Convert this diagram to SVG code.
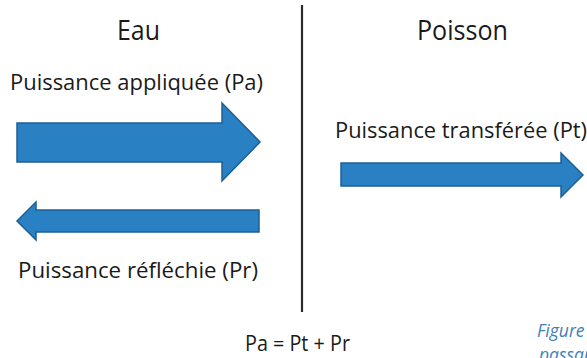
<svg xmlns="http://www.w3.org/2000/svg" width="587" height="358" viewBox="0 0 587 358">
<style>
.t{font-family:"Open Sans","Noto Sans","Liberation Sans",sans-serif;fill:#1a1a1a}
.h{font-size:28px}
.l{font-size:21px}
.arr{fill:#2980c3;stroke:#1d5f96;stroke-width:1.5}
.fig{font-family:"Open Sans","Liberation Sans",sans-serif;font-style:italic;font-size:17.5px;fill:#3d7fb8}
</style>
<rect width="587" height="358" fill="#fff"/>
<g id="divider"><line x1="302" y1="5" x2="302" y2="312" stroke="#2b2b2b" stroke-width="2.2"/></g>
<g id="eau"><text class="t h" x="117" y="40" textLength="43" lengthAdjust="spacingAndGlyphs">Eau</text></g>
<g id="poisson"><text class="t h" x="417" y="40" textLength="91" lengthAdjust="spacingAndGlyphs">Poisson</text></g>
<g id="connectors">
<g id="pa"><polygon class="arr" points="17,123 222,123 222,103 260,142 222,181 222,162 17,162"/></g>
<g id="pr"><polygon class="arr" points="259,210 36,210 36,202 17,221 36,240 36,232 259,232"/></g>
<g id="pt"><polygon class="arr" points="341,163 561,163 561,153 583,175 561,197 561,186 341,186"/></g>
</g>
<g id="labels">
<text class="t l" x="10" y="90" textLength="253" lengthAdjust="spacingAndGlyphs">Puissance appliquée (Pa)</text>
<text class="t l" x="335" y="138" textLength="252" lengthAdjust="spacingAndGlyphs">Puissance transférée (Pt)</text>
<text class="t l" x="18" y="278" textLength="240" lengthAdjust="spacingAndGlyphs">Puissance réfléchie (Pr)</text>
<text class="t l" x="245" y="351" textLength="105" lengthAdjust="spacingAndGlyphs">Pa = Pt + Pr</text>
</g>
<g id="caption">
<text class="fig" x="537" y="337">Figure</text>
<text class="fig" x="539" y="361">passan</text>
</g>
</svg>
